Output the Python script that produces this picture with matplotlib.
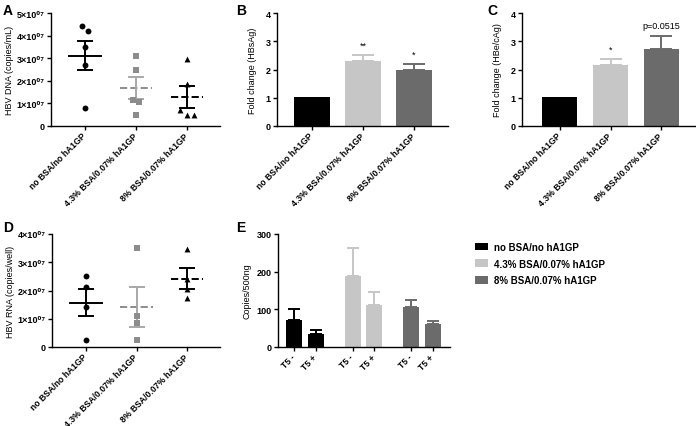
import matplotlib
matplotlib.use("Agg")
import matplotlib.pyplot as plt
import numpy as np

plt.rcParams['font.family'] = ['Liberation Sans', 'DejaVu Sans']
plt.rcParams['font.weight'] = 'bold'
plt.rcParams['axes.linewidth'] = 1.0

# ---- data ----
groups = ['no BSA/no hA1GP', '4.3% BSA/0.07% hA1GP', '8% BSA/0.07% hA1GP']

# panel A: HBV DNA (copies/mL), x1e7
dna_pts = [[4.41, 4.19, 3.48, 2.70, 0.81],
           [3.11, 2.49, 1.14, 1.08, 0.49],
           [2.96, 1.84, 0.69, 0.47, 0.47]]
dna_jit = [[-0.065, 0.065, 0, 0, 0],
           [0, 0, -0.065, 0.065, 0],
           [0, 0, -0.13, 0, 0.13]]

# panel B / C: fold change
hbsag = [1.02, 2.30, 2.00]
hbsag_err = [0, 0.21, 0.19]
hbsag_sig = ['', '**', '*']
hbecag = [1.03, 2.15, 2.71]
hbecag_err = [0, 0.22, 0.48]
hbecag_sig = ['', '*', 'p=0.0515']

# panel D: HBV RNA (copies/well), x1e7
rna_pts = [[2.50, 2.11, 1.43, 0.26],
           [3.50, 1.09, 0.84, 0.25],
           [3.47, 2.39, 2.06, 1.74]]

# panel E: copies/500ng
t5_labels = ['T5 -', 'T5 +']
t5_vals = [[72, 34], [189, 112], [105, 62]]
t5_err = [[30, 12], [75, 34], [21, 7]]

colors = ['#000000', '#c6c6c6', '#6b6b6b']
pt_colors = ['#000000', '#8c8c8c', '#000000']
bar_colors = ['#000000', '#a8a8a8', '#000000']
markers = ['o', 's', '^']
mean_styles = ['-', '--', '--']

W, H = 696, 427
fig = plt.figure(figsize=(W / 100, H / 100), dpi=100)


def px_axes(x0, y0, x1, y1):
    ax = fig.add_axes([x0 / W, 1 - y1 / H, (x1 - x0) / W, (y1 - y0) / H])
    ax.spines['top'].set_visible(False)
    ax.spines['right'].set_visible(False)
    ax.tick_params(direction='out', length=3, width=1.0, labelsize=6.5, pad=1.5)
    ax.tick_params(axis='x', pad=3)
    return ax


def sci(v):
    sup = str.maketrans('0123456789', '⁰¹²³⁴⁵⁶⁷⁸⁹')
    return '0' if v == 0 else f'{int(v)}×10' + '07'.translate(sup)


def set_group_labels(ax, fs):
    ax.set_xticks(range(3))
    ax.set_xticklabels(groups, rotation=45, ha='right', va='center',
                       rotation_mode='anchor', fontsize=fs)


def scatter_panel(ax, pts, jit, ymax):
    for i, p in enumerate(pts):
        p = np.array(p)
        xs = i + np.array(jit[i]) if jit else np.full(len(p), i)
        ax.scatter(xs, p, marker=markers[i], s=18, color=pt_colors[i], zorder=3, linewidths=0)
        m = p.mean()
        sem = p.std(ddof=1) / np.sqrt(len(p))
        mc = '#8c8c8c' if i == 1 else '#000000'
        ax.plot([i - 0.32, i + 0.32], [m, m], ls=mean_styles[i], color=mc, lw=1.4, zorder=2)
        ax.errorbar(i, m, yerr=sem, color=bar_colors[i], lw=1.4, capsize=5.5, capthick=1.4, zorder=2)
    ax.set_ylim(0, ymax)
    ax.set_xlim(-0.667, 2.647)
    ax.set_yticks(range(ymax + 1))
    ax.set_yticklabels([sci(v) for v in range(ymax + 1)], fontsize=6.5)
    set_group_labels(ax, 6.2)


def bar_panel(ax, vals, errs, sig, xl):
    x = np.arange(3)
    ax.bar(x, vals, width=0.69, color=colors, zorder=2)
    for i in range(1, 3):
        ax.errorbar(i, vals[i], yerr=[[0], [errs[i]]], color=colors[i], lw=1.4,
                    capsize=8, capthick=1.4, zorder=1)
        ax.text(i, vals[i] + errs[i] + 0.2, sig[i], ha='center', va='bottom', fontsize=6.5,
                fontweight='normal')
    ax.set_ylim(0, 4)
    ax.set_xlim(*xl)
    ax.set_yticks(range(5))
    set_group_labels(ax, 6.2)


# A
axA = px_axes(51, 14, 220, 127)
scatter_panel(axA, [np.array(p) for p in dna_pts], dna_jit, 5)
axA.set_ylabel('HBV DNA (copies/mL)', fontsize=6.5, labelpad=2)

# B
axB = px_axes(277, 14, 448, 127)
bar_panel(axB, hbsag, hbsag_err, hbsag_sig, (-0.686, 2.667))
axB.set_ylabel('Fold change (HBsAg)', fontsize=6.5, labelpad=6)

# C
axC = px_axes(522, 14, 695, 127)
bar_panel(axC, hbecag, hbecag_err, hbecag_sig, (-0.75, 2.67))
axC.set_ylabel('Fold change (HBe/cAg)', fontsize=6.5, labelpad=6)

# D
axD = px_axes(52, 235, 220, 348)
scatter_panel(axD, [np.array(p) for p in rna_pts], None, 4)
axD.set_ylabel('HBV RNA (copies/well)', fontsize=6.5, labelpad=2)

# E
axE = px_axes(278, 235, 450, 348)
xpos = []
for g in range(3):
    xs = np.array([0, 1.0]) + g * 2.72
    xpos += list(xs)
    axE.bar(xs, t5_vals[g], width=0.74, color=colors[g], zorder=2, label=groups[g])
    axE.errorbar(xs, t5_vals[g], yerr=[[0, 0], t5_err[g]], fmt='none', ecolor=colors[g],
                 elinewidth=1.4, capsize=4, capthick=1.4, zorder=1)
axE.set_ylim(0, 300)
axE.set_xlim(-0.74, 7.23)
axE.set_yticks([0, 100, 200, 300])
axE.set_xticks(xpos)
axE.set_xticklabels(t5_labels * 3, rotation=45, ha='right', va='center',
                    rotation_mode='anchor', fontsize=6.2)
axE.set_ylabel('Copies/500ng', fontsize=6.5, labelpad=4)

h, l = axE.get_legend_handles_labels()
fig.legend(h, l, loc='upper left', bbox_to_anchor=(466 / W, 1 - 234 / H), frameon=False,
           fontsize=7, handlelength=1.4, handleheight=0.8, labelspacing=0.7, handletextpad=0.6)

for letter, x, y in [('A', 3, 4), ('B', 236, 4), ('C', 487, 4), ('D', 3, 221), ('E', 236, 221)]:
    fig.text(x / W, 1 - y / H, letter, fontsize=10, fontweight='bold', va='top')

fig.savefig('out.png', dpi=100)
